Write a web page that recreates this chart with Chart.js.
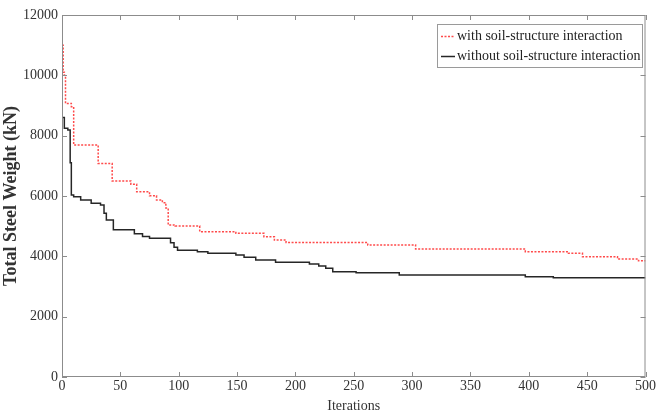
<!DOCTYPE html>
<html>
<head>
<meta charset="utf-8">
<script src="https://cdn.jsdelivr.net/npm/chart.js@4/dist/chart.umd.min.js"></script>
<style>
  html, body { margin: 0; padding: 0; background: #fff; }
  #wrap { width: 657px; height: 415px; }
</style>
</head>
<body>
<div id="wrap"><canvas id="c" width="657" height="415"></canvas></div>
<script>
// Data (iteration where value starts, total steel weight kN)
const withIter = [0, 1, 2, 3, 4, 8, 10, 31, 43, 59, 64, 75, 81, 86, 89, 91, 97, 118, 149, 173, 182, 192, 262, 303, 397, 434, 446, 476, 494, 500];
const withWeight = [11000, 10100, 10000, 9100, 9070, 8960, 7690, 7080, 6500, 6390, 6140, 6010, 5870, 5780, 5600, 5040, 5005, 4817, 4763, 4650, 4540, 4455, 4375, 4243, 4153, 4100, 3988, 3911, 3855, 3855];

const withoutIter = [0, 2, 5, 7, 8, 10, 16, 25, 33, 36, 38, 44, 62, 69, 75, 93, 96, 99, 116, 125, 149, 156, 166, 183, 212, 220, 226, 232, 252, 289, 397, 421, 500];
const withoutWeight = [8600, 8250, 8190, 7100, 6030, 5977, 5870, 5760, 5700, 5430, 5204, 4880, 4750, 4660, 4597, 4450, 4300, 4200, 4153, 4100, 4044, 3967, 3878, 3800, 3745, 3679, 3602, 3490, 3457, 3381, 3325, 3292, 3292];

const xTicks = [0, 50, 100, 150, 200, 250, 300, 350, 400, 450, 500];
const yTicks = [0, 2000, 4000, 6000, 8000, 10000, 12000];
const seriesLabels = ['with soil-structure interaction', 'without soil-structure interaction'];

const FONT = '"Liberation Serif", "Times New Roman", serif';
const AXIS_COLOR = '#8c8c8c';

const frame = {
  id: 'frame',
  afterDatasetsDraw(chart) {
    const { ctx, chartArea: a, scales } = chart;
    ctx.save();
    ctx.strokeStyle = AXIS_COLOR;
    ctx.lineWidth = 1;
    ctx.strokeRect(a.left + 0.5, a.top + 0.5, a.right - a.left - 1, a.bottom - a.top - 1);
    const L = 5;
    ctx.beginPath();
    scales.x.ticks.forEach((t, i) => {
      const px = Math.round(scales.x.getPixelForTick(i)) + 0.5;
      ctx.moveTo(px, a.bottom); ctx.lineTo(px, a.bottom - L);
      ctx.moveTo(px, a.top); ctx.lineTo(px, a.top + L);
    });
    scales.y.ticks.forEach((t, i) => {
      const py = Math.round(scales.y.getPixelForTick(i)) + 0.5;
      ctx.moveTo(a.left, py); ctx.lineTo(a.left + L, py);
      ctx.moveTo(a.right, py); ctx.lineTo(a.right - L, py);
    });
    ctx.stroke();

    // legend box
    const bx = 437, by = 24, bw = 205, bh = 43;
    ctx.fillStyle = '#fff';
    ctx.fillRect(bx, by, bw, bh);
    ctx.strokeStyle = '#9a9a9a';
    ctx.strokeRect(bx + 0.5, by + 0.5, bw, bh);
    ctx.font = '14px ' + FONT;
    ctx.textBaseline = 'middle';
    ctx.textAlign = 'left';
    chart.data.datasets.forEach((ds, i) => {
      const y = by + 12 + i * 20;
      ctx.save();
      ctx.strokeStyle = ds.borderColor;
      ctx.lineWidth = ds.borderWidth;
      ctx.setLineDash(ds.borderDash || []);
      ctx.beginPath();
      ctx.moveTo(bx + 4, y + 0.5); ctx.lineTo(bx + 18, y + 0.5);
      ctx.stroke();
      ctx.restore();
      ctx.fillStyle = '#222';
      ctx.fillText(ds.label, bx + 20, y);
    });
    ctx.restore();
  }
};

new Chart(document.getElementById('c'), {
  type: 'line',
  data: {
    datasets: [
      {
        label: seriesLabels[0],
        data: withIter.map((x, i) => ({ x, y: withWeight[i] })),
        borderColor: '#ff4a4a',
        borderWidth: 1.5,
        borderDash: [2, 1.5],
        stepped: 'before',
        pointRadius: 0,
        fill: false
      },
      {
        label: seriesLabels[1],
        data: withoutIter.map((x, i) => ({ x, y: withoutWeight[i] })),
        borderColor: '#262626',
        borderWidth: 1.5,
        stepped: 'before',
        pointRadius: 0,
        fill: false
      }
    ]
  },
  options: {
    responsive: false,
    animation: false,
    layout: { padding: { top: 15, right: 10, left: 0, bottom: 0 } },
    plugins: { legend: { display: false }, tooltip: { enabled: false } },
    scales: {
      x: {
        type: 'linear',
        min: 0, max: 500,
        afterBuildTicks(scale) { scale.ticks = xTicks.map(v => ({ value: v })); },
        afterFit(scale) { scale.height = 38; },
        grid: { display: false, drawTicks: false },
        border: { display: false },
        ticks: { color: '#333', font: { family: FONT, size: 14 }, padding: 1, maxRotation: 0 },
        title: { display: true, text: 'Iterations', color: '#333', font: { family: FONT, size: 14 }, padding: { top: 0, bottom: 0 } }
      },
      y: {
        type: 'linear',
        min: 0, max: 12000,
        afterBuildTicks(scale) { scale.ticks = yTicks.map(v => ({ value: v })); },
        afterFit(scale) { scale.width = 62; },
        grid: { display: false, drawTicks: false },
        border: { display: false },
        ticks: { color: '#333', font: { family: FONT, size: 14 }, padding: 4, callback: v => String(v) },
        title: { display: true, text: 'Total Steel Weight (kN)', color: '#333', font: { family: FONT, size: 18, weight: 'bold' }, padding: { top: 1, bottom: 0 } }
      }
    }
  },
  plugins: [frame]
});
</script>
</body>
</html>
